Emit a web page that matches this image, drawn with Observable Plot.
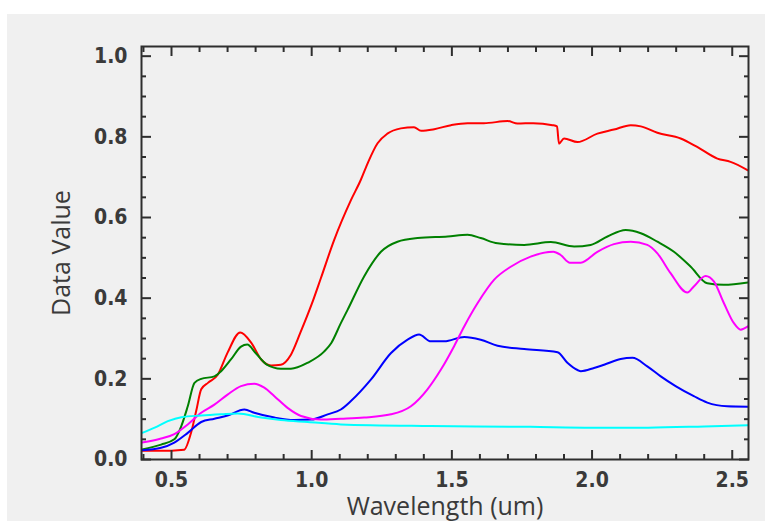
<!DOCTYPE html>
<html>
<head>
<meta charset="utf-8">
<script src="https://cdn.jsdelivr.net/npm/d3@7"></script>
<script src="https://cdn.jsdelivr.net/npm/@observablehq/plot@0.6"></script>
<style>
  html, body { margin: 0; padding: 0; background: #ffffff; }
  #chart { margin: 14px 0 0 7px; width: 758px; height: 507px; overflow: hidden; background: #f0f0f0; }
</style>
</head>
<body>
<div id="chart"></div>
<script>
// ---- data ----
const redW = [0.395, 0.45, 0.50, 0.545, 0.57, 0.588, 0.606, 0.63, 0.665, 0.70, 0.745, 0.784, 0.82, 0.855, 0.89, 0.926, 0.96, 1.0, 1.033, 1.08, 1.14, 1.175, 1.20, 1.235, 1.27, 1.318, 1.365, 1.39, 1.437, 1.497, 1.556, 1.614, 1.70, 1.734, 1.79, 1.859, 1.875, 1.882, 1.90, 1.948, 2.019, 2.078, 2.138, 2.174, 2.233, 2.316, 2.375, 2.447, 2.494, 2.556];
const redV = [0.022, 0.022, 0.022, 0.024, 0.067, 0.12, 0.174, 0.19, 0.21, 0.265, 0.315, 0.29, 0.248, 0.233, 0.235, 0.26, 0.315, 0.385, 0.45, 0.544, 0.643, 0.693, 0.735, 0.784, 0.808, 0.821, 0.824, 0.815, 0.819, 0.829, 0.834, 0.834, 0.839, 0.833, 0.834, 0.829, 0.826, 0.783, 0.796, 0.787, 0.808, 0.818, 0.829, 0.826, 0.81, 0.796, 0.775, 0.746, 0.738, 0.717];

const greenW = [0.395, 0.463, 0.51, 0.535, 0.558, 0.582, 0.606, 0.653, 0.677, 0.712, 0.748, 0.77, 0.80, 0.84, 0.89, 0.926, 0.986, 1.045, 1.07, 1.104, 1.128, 1.187, 1.247, 1.306, 1.378, 1.485, 1.556, 1.603, 1.663, 1.758, 1.853, 1.936, 1.995, 2.055, 2.12, 2.174, 2.233, 2.292, 2.352, 2.411, 2.47, 2.556];
const greenV = [0.025, 0.037, 0.05, 0.083, 0.132, 0.19, 0.20, 0.206, 0.219, 0.248, 0.28, 0.285, 0.264, 0.235, 0.225, 0.225, 0.24, 0.268, 0.289, 0.338, 0.371, 0.454, 0.515, 0.54, 0.549, 0.553, 0.557, 0.549, 0.536, 0.532, 0.539, 0.528, 0.532, 0.553, 0.569, 0.561, 0.540, 0.515, 0.478, 0.437, 0.433, 0.439];

const blueW = [0.395, 0.463, 0.51, 0.558, 0.606, 0.653, 0.70, 0.76, 0.795, 0.867, 0.938, 0.998, 1.057, 1.104, 1.14, 1.211, 1.283, 1.342, 1.383, 1.425, 1.473, 1.544, 1.603, 1.663, 1.758, 1.877, 1.912, 1.948, 1.96, 2.007, 2.043, 2.102, 2.144, 2.197, 2.245, 2.298, 2.363, 2.411, 2.482, 2.556];
const blueV = [0.023, 0.029, 0.042, 0.066, 0.093, 0.101, 0.109, 0.124, 0.116, 0.104, 0.098, 0.099, 0.112, 0.124, 0.145, 0.198, 0.264, 0.297, 0.31, 0.293, 0.293, 0.304, 0.297, 0.282, 0.274, 0.266, 0.24, 0.222, 0.219, 0.227, 0.235, 0.249, 0.252, 0.231, 0.206, 0.182, 0.157, 0.141, 0.132, 0.131];

const magentaW = [0.395, 0.463, 0.51, 0.558, 0.606, 0.653, 0.70, 0.748, 0.795, 0.831, 0.867, 0.914, 0.962, 1.033, 1.104, 1.187, 1.283, 1.354, 1.413, 1.461, 1.508, 1.544, 1.592, 1.651, 1.71, 1.781, 1.862, 1.888, 1.921, 1.96, 2.019, 2.078, 2.138, 2.197, 2.233, 2.28, 2.34, 2.363, 2.405, 2.435, 2.47, 2.506, 2.53, 2.556];
const magentaV = [0.042, 0.052, 0.063, 0.087, 0.116, 0.136, 0.161, 0.182, 0.188, 0.178, 0.157, 0.128, 0.108, 0.099, 0.101, 0.104, 0.112, 0.132, 0.174, 0.223, 0.281, 0.33, 0.388, 0.446, 0.478, 0.503, 0.515, 0.507, 0.488, 0.488, 0.515, 0.534, 0.540, 0.532, 0.511, 0.462, 0.414, 0.429, 0.455, 0.441, 0.388, 0.338, 0.322, 0.33];

const cyanW = [0.395, 0.44, 0.487, 0.535, 0.606, 0.677, 0.736, 0.82, 0.89, 0.986, 1.104, 1.425, 1.78, 2.0, 2.2, 2.4, 2.556];
const cyanV = [0.066, 0.079, 0.095, 0.105, 0.109, 0.112, 0.114, 0.104, 0.098, 0.093, 0.087, 0.083, 0.081, 0.079, 0.079, 0.082, 0.085];

const seriesNames = ["red", "green", "blue", "magenta", "cyan"];
const seriesColors = ["#ff1a1a", "#2b8c2b", "#2626ff", "#ff1aff", "#1affff"];

const xMajor = [0.5, 1.0, 1.5, 2.0, 2.5];
const xMinor = [0.4, 0.6, 0.7, 0.8, 0.9, 1.1, 1.2, 1.3, 1.4, 1.6, 1.7, 1.8, 1.9, 2.1, 2.2, 2.3, 2.4];
const yMajor = [0.0, 0.2, 0.4, 0.6, 0.8, 1.0];
const yMinor = [0.05, 0.1, 0.15, 0.25, 0.3, 0.35, 0.45, 0.5, 0.55, 0.65, 0.7, 0.75, 0.85, 0.9, 0.95];

const xLabel = "Wavelength (um)";
const yLabel = "Data Value";

// ---- build table ----
const allW = [redW, greenW, blueW, magentaW, cyanW];
const allV = [redV, greenV, blueV, magentaV, cyanV];
const rows = [];
seriesNames.forEach((name, i) => {
  allW[i].forEach((w, j) => rows.push({series: name, w, v: allV[i][j]}));
});

const axisColor = "#2e2e2e";
const tickFont = "'DejaVu Sans Condensed', 'DejaVu Sans', sans-serif";
const titleFont = "'Open Sans', sans-serif";

const chart = Plot.plot({
  width: 758,
  height: 507,
  marginLeft: 134,
  marginRight: 17,
  marginTop: 32,
  marginBottom: 62,
  style: {background: "#f0f0f0", color: axisColor, overflow: "visible"},
  x: {domain: [0.393, 2.558], label: null},
  y: {domain: [0, 1.024], label: null},
  color: {domain: seriesNames, range: seriesColors},
  marks: [
    Plot.line(rows, {x: "w", y: "v", z: "series", stroke: "series", strokeWidth: 2, curve: "monotone-x", clip: true}),
    // tick labels
    Plot.axisX({anchor: "bottom", ticks: xMajor, tickSize: 0, tickPadding: 13, tickFormat: d3.format(".1f"),
      fontSize: 21, fontFamily: tickFont, fontWeight: "bold", fill: "#3a3a3a", label: null}),
    Plot.axisY({anchor: "left", ticks: yMajor, tickSize: 0, tickPadding: 14, tickFormat: d3.format(".1f"),
      fontSize: 21, fontFamily: tickFont, fontWeight: "bold", fill: "#3a3a3a", label: null}),
    // inward ticks, all four sides
    Plot.axisX({anchor: "bottom", ticks: xMajor, tickSize: -9, tickFormat: () => "", strokeWidth: 2, stroke: axisColor, label: null}),
    Plot.axisX({anchor: "bottom", ticks: xMinor, tickSize: -5, tickFormat: () => "", strokeWidth: 2, stroke: axisColor, label: null}),
    Plot.axisX({anchor: "top", ticks: xMajor, tickSize: -9, tickFormat: () => "", strokeWidth: 2, stroke: axisColor, label: null}),
    Plot.axisX({anchor: "top", ticks: xMinor, tickSize: -5, tickFormat: () => "", strokeWidth: 2, stroke: axisColor, label: null}),
    Plot.axisY({anchor: "left", ticks: yMajor, tickSize: -10, tickFormat: () => "", strokeWidth: 2, stroke: axisColor, label: null}),
    Plot.axisY({anchor: "left", ticks: yMinor, tickSize: -5, tickFormat: () => "", strokeWidth: 2, stroke: axisColor, label: null}),
    Plot.axisY({anchor: "right", ticks: yMajor, tickSize: -10, tickFormat: () => "", strokeWidth: 2, stroke: axisColor, label: null}),
    Plot.axisY({anchor: "right", ticks: yMinor, tickSize: -5, tickFormat: () => "", strokeWidth: 2, stroke: axisColor, label: null}),
    Plot.frame({stroke: axisColor, strokeWidth: 2}),
    // axis titles
    Plot.text([xLabel], {frameAnchor: "bottom", text: d => d, dy: 47, lineAnchor: "middle", textAnchor: "middle",
      fontSize: 25, fontFamily: titleFont, fill: "#3a3a3a"}),
    Plot.text([yLabel], {frameAnchor: "left", text: d => d, dx: -80, rotate: -90, lineAnchor: "middle", textAnchor: "middle",
      fontSize: 25, fontFamily: titleFont, fill: "#3a3a3a"})
  ]
});
document.getElementById("chart").appendChild(chart);
</script>
</body>
</html>
